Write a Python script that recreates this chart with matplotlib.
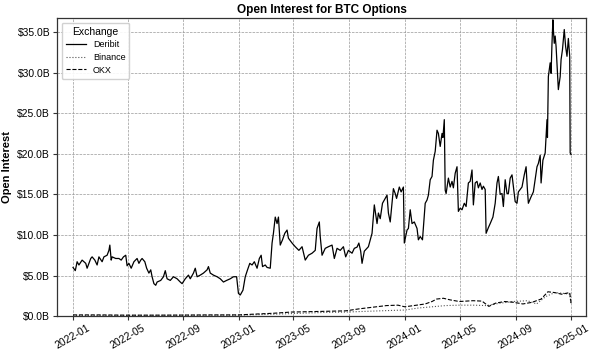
import numpy as np
import matplotlib
matplotlib.use('Agg')
import matplotlib.pyplot as plt
import matplotlib.dates as mdates
from matplotlib.ticker import FuncFormatter

# days since 2022-01-01 and open interest in $B
start = np.datetime64('2022-01-01')

deribit_days = [
    0, 5, 9, 13, 20, 28, 31, 39, 42, 48, 53, 57, 64, 68, 75, 79, 81, 84, 86, 94,
    101, 106, 111, 116, 119, 123, 128, 134, 141, 145, 149, 152, 158, 162, 167, 171, 174, 178, 182, 185,
    193, 199, 203, 207, 214, 221, 229, 236, 240, 247, 254, 258, 265, 269, 273, 280, 287, 295, 298, 302,
    309, 317, 324, 331, 338, 346, 353, 360, 364, 368, 374, 379, 384, 389, 394, 399, 405, 410, 414, 417,
    423, 427, 434, 438, 441, 445, 449, 452, 456, 461, 466, 471, 474, 482, 489, 497, 504, 511, 518, 526,
    533, 537, 542, 544, 548, 555, 562, 570, 575, 581, 588, 595, 600, 606, 614, 619, 625, 629, 633, 636,
    641, 650, 658, 663, 669, 672, 676, 681, 687, 691, 694, 698, 705, 709, 712, 718, 722, 727, 729, 735,
    738, 742, 746, 751, 757, 760, 764, 769, 775, 779, 782, 786, 790, 793, 797, 801, 804, 808, 812, 814,
    817, 819, 821, 826, 830, 834, 837, 841, 845, 848, 852, 856, 861, 865, 870, 874, 878, 881, 885, 889,
    892, 896, 900, 903, 907, 909, 914, 918, 924, 929, 933, 936, 940, 944, 947, 951, 955, 958, 962, 966,
    973, 977, 980, 988, 993, 997, 1000, 1002, 1008, 1013, 1021, 1024, 1028, 1030, 1034, 1039, 1043, 1044, 1046, 1050,
    1052, 1054, 1056, 1057, 1059, 1061, 1063, 1066, 1068, 1072, 1074, 1077, 1081, 1084, 1087, 1090, 1093, 1094, 1096,
]
deribit_oi = [
    6.0, 5.6, 6.7, 6.3, 6.9, 6.5, 5.9, 7.1, 7.3, 6.9, 6.3, 7.3, 6.7, 7.3, 7.5, 8.1, 8.75, 6.9, 7.3, 7.1,
    7.1, 6.9, 7.3, 7.5, 6.2, 6.5, 5.9, 6.7, 7.1, 6.5, 6.9, 7.1, 6.7, 5.9, 5.3, 5.7, 4.85, 4.0, 3.8, 4.2,
    4.4, 4.85, 5.6, 4.6, 4.4, 4.85, 4.6, 4.2, 4.0, 4.6, 5.05, 4.6, 5.3, 5.9, 4.85, 5.05, 5.3, 5.7, 6.1, 5.3,
    5.05, 4.85, 4.6, 4.2, 4.4, 4.6, 4.85, 4.85, 2.8, 2.6, 3.2, 4.85, 5.7, 6.5, 6.3, 6.7, 5.9, 7.1, 7.5, 6.1,
    6.3, 6.0, 5.9, 9.0, 10.2, 12.2, 11.4, 12.2, 8.75, 9.4, 10.2, 10.6, 9.6, 9.0, 8.55, 8.1, 8.55, 6.9, 7.5, 7.75,
    8.1, 10.8, 11.6, 9.8, 7.5, 8.35, 8.55, 8.75, 7.1, 8.35, 8.1, 8.55, 7.3, 8.1, 7.75, 8.35, 8.5, 9.0, 8.0, 6.5,
    8.0, 8.55, 10.2, 13.7, 11.4, 12.7, 12.0, 13.9, 14.5, 14.9, 12.7, 11.6, 15.7, 15.1, 14.5, 15.9, 15.3, 15.9, 9.0, 10.6,
    10.8, 13.1, 11.4, 11.6, 10.8, 9.4, 9.8, 9.4, 13.9, 14.3, 14.9, 16.8, 17.2, 19.2, 20.3, 22.9, 22.5, 20.9, 22.5, 22.0,
    24.2, 15.5, 15.1, 17.0, 15.9, 16.6, 15.8, 17.6, 18.4, 12.9, 13.3, 13.1, 13.9, 13.5, 16.4, 16.6, 18.0, 13.7, 16.4, 16.6,
    15.8, 16.4, 15.6, 16.0, 15.6, 10.2, 10.9, 11.4, 12.2, 13.9, 16.4, 17.2, 15.0, 15.1, 13.5, 16.8, 15.1, 15.1, 17.0, 17.4,
    14.1, 13.9, 15.3, 15.9, 17.4, 18.4, 15.5, 13.9, 14.7, 15.3, 18.4, 18.8, 19.8, 16.4, 19.2, 20.1, 24.2, 22.0, 29.5, 31.2,
    29.9, 33.6, 36.5, 35.3, 33.6, 34.5, 33.2, 29.9, 27.9, 29.5, 31.6, 32.8, 35.3, 33.2, 32.0, 34.2, 32.0, 20.1, 19.9,
]

binance_days = [0, 100, 200, 300, 365, 450, 500, 550, 600, 650, 700, 730, 760, 790, 820, 850, 880,
                910, 940, 970, 1000, 1020, 1040, 1060, 1080, 1093, 1096]
binance_oi = [0.08, 0.08, 0.1, 0.1, 0.12, 0.25, 0.35, 0.45, 0.5, 0.6, 0.7, 0.75, 1.0, 1.15, 1.3, 1.35, 1.35,
              1.3, 1.6, 1.8, 1.9, 1.5, 2.4, 2.9, 2.8, 2.7, 1.4]

okx_days = [0, 60, 120, 180, 240, 300, 365, 400, 440, 480, 520, 560, 600, 630, 660, 690, 715, 730, 750,
            775, 790, 800, 815, 830, 850, 880, 900, 915, 930, 950, 970, 990, 1010, 1030, 1045, 1060, 1075,
            1093, 1096]
okx_oi = [0.15, 0.15, 0.12, 0.12, 0.13, 0.15, 0.15, 0.25, 0.35, 0.5, 0.55, 0.6, 0.65, 0.9, 1.1, 1.3, 1.35,
          1.15, 1.3, 1.5, 1.8, 2.1, 2.2, 2.0, 1.8, 1.9, 1.85, 1.2, 1.6, 1.8, 1.7, 1.5, 1.7, 2.1, 3.0, 2.9, 2.7,
          2.9, 1.6]


def to_dates(days):
    return start + np.array(days, dtype='timedelta64[D]')


def plot_open_interest():
    plt.rcParams['font.family'] = ['Liberation Sans', 'DejaVu Sans']
    fig = plt.figure(figsize=(5.95, 3.56), dpi=100)
    ax = fig.add_axes([0.096, 0.112, 0.889, 0.837])

    ax.plot(to_dates(deribit_days), deribit_oi, color='black', lw=0.9, ls='-', label='Deribit')
    ax.plot(to_dates(binance_days), binance_oi, color='#555555', lw=0.8, ls=':', label='Binance')
    ax.plot(to_dates(okx_days), okx_oi, color='black', lw=0.8, ls='--', label='OKX')

    ax.set_xlim(np.datetime64('2021-11-27'), np.datetime64('2025-02-03'))
    ax.set_ylim(0, 36.7)
    ax.set_yticks(np.arange(0, 36, 5))
    ax.yaxis.set_major_formatter(FuncFormatter(lambda v, p: '${:.1f}B'.format(v)))
    ax.xaxis.set_major_locator(mdates.MonthLocator(bymonth=[1, 5, 9]))
    ax.xaxis.set_major_formatter(mdates.DateFormatter('%Y-%m'))
    plt.setp(ax.get_xticklabels(), rotation=30, ha='center')
    ax.tick_params(labelsize=7.5, length=3, width=0.8, color='#333333', pad=2)

    ax.grid(True, ls='--', lw=0.5, color='#999999')
    for s in ax.spines.values():
        s.set_color('#333333')
        s.set_linewidth(0.9)

    ax.set_title('Open Interest for BTC Options', fontsize=8.5, fontweight='bold', pad=4)
    ax.set_ylabel('Open Interest', fontsize=8, fontweight='bold', labelpad=4)
    leg = ax.legend(title='Exchange', loc='upper left', fontsize=6.5, title_fontsize=7.5,
                    handlelength=2.2, borderpad=0.45, labelspacing=0.4, framealpha=0.9)
    leg.get_frame().set_edgecolor('#cccccc')

    fig.savefig('out.png', dpi=100)


plot_open_interest()
